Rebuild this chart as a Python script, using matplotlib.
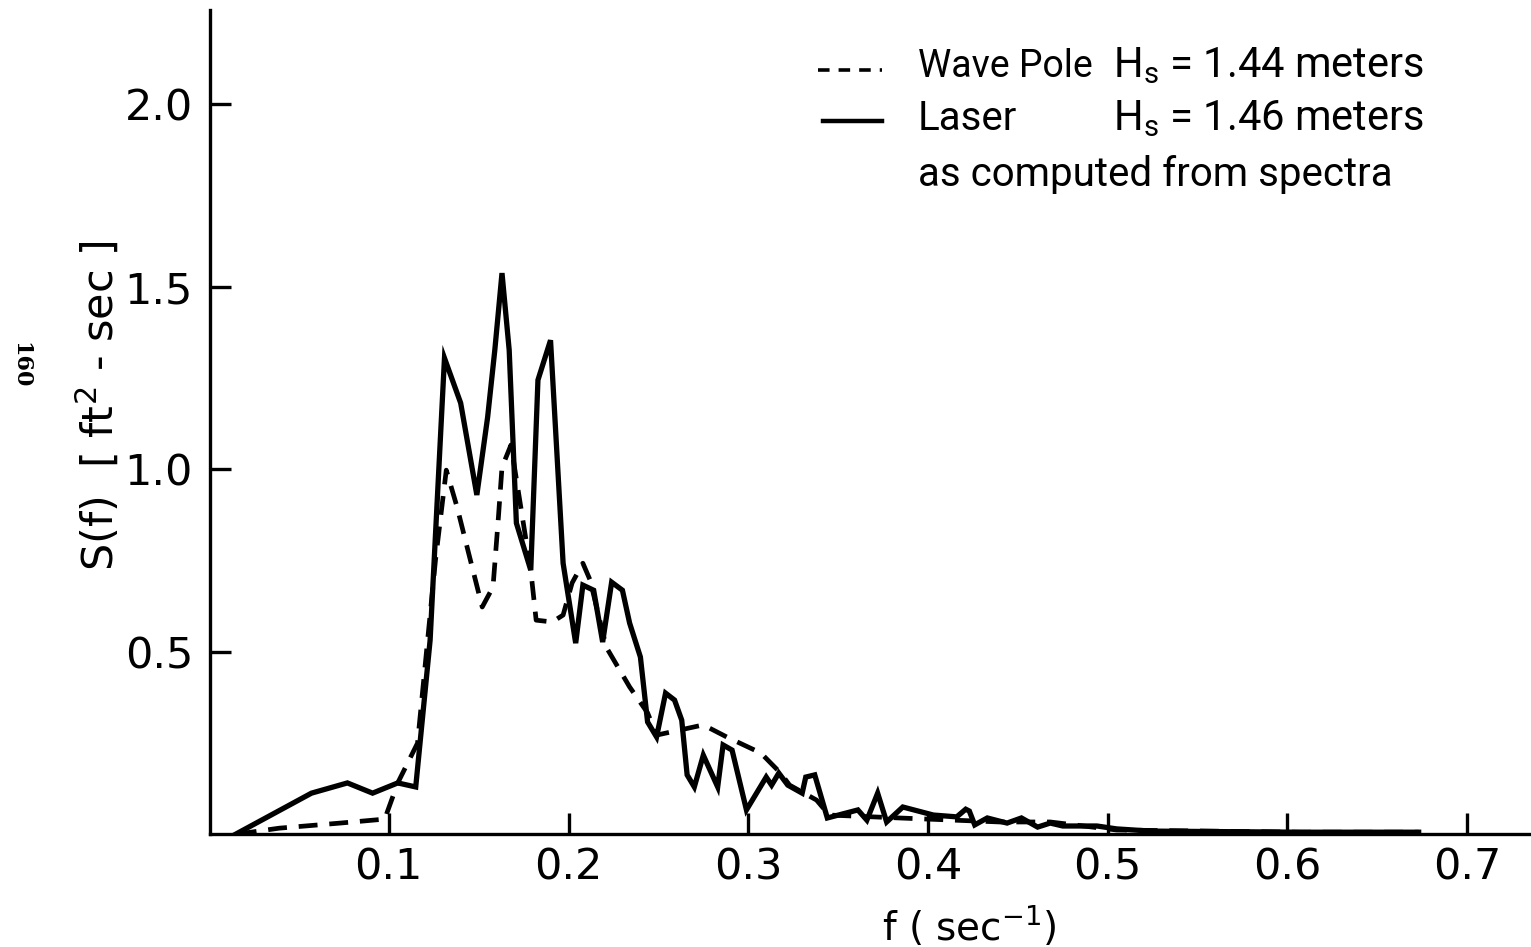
import matplotlib
matplotlib.use('Agg')
import matplotlib.pyplot as plt
from matplotlib.lines import Line2D

# Laser spectrum (solid)
laser_f = [0.015, 0.057, 0.077, 0.091, 0.105, 0.115, 0.123, 0.131, 0.140, 0.149,
           0.155, 0.159, 0.163, 0.167, 0.171, 0.179, 0.183, 0.190, 0.197, 0.204,
           0.208, 0.214, 0.219, 0.224, 0.230, 0.234, 0.240, 0.244, 0.249, 0.254,
           0.259, 0.263, 0.266, 0.270, 0.275, 0.283, 0.286, 0.291, 0.299, 0.310,
           0.313, 0.317, 0.322, 0.330, 0.332, 0.337, 0.344, 0.361, 0.366, 0.372,
           0.377, 0.386, 0.403, 0.416, 0.421, 0.423, 0.426, 0.433, 0.444, 0.452,
           0.461, 0.468, 0.475, 0.494, 0.505, 0.524, 0.607, 0.673]
laser_s = [0.0, 0.112, 0.140, 0.112, 0.140, 0.129, 0.531, 1.304, 1.181, 0.929,
           1.142, 1.326, 1.537, 1.326, 0.852, 0.723, 1.244, 1.353, 0.742, 0.523,
           0.682, 0.668, 0.526, 0.690, 0.668, 0.578, 0.485, 0.307, 0.266, 0.386,
           0.367, 0.312, 0.162, 0.129, 0.216, 0.129, 0.244, 0.230, 0.066, 0.156,
           0.134, 0.167, 0.134, 0.112, 0.156, 0.162, 0.044, 0.066, 0.038, 0.112,
           0.033, 0.074, 0.052, 0.047, 0.068, 0.063, 0.025, 0.044, 0.030, 0.044,
           0.019, 0.030, 0.022, 0.022, 0.014, 0.008, 0.005, 0.005]

# Wave pole spectrum (dashed)
pole_f = [0.016, 0.039, 0.073, 0.098, 0.099, 0.105, 0.116, 0.126, 0.132, 0.138,
          0.144, 0.152, 0.158, 0.161, 0.163, 0.168, 0.179, 0.182, 0.191, 0.197,
          0.202, 0.208, 0.212, 0.221, 0.234, 0.244, 0.249, 0.275, 0.288, 0.307,
          0.318, 0.323, 0.338, 0.345, 0.384, 0.440, 0.468, 0.505, 0.607, 0.673]
pole_s = [0.0, 0.016, 0.030, 0.041, 0.058, 0.140, 0.249, 0.751, 0.997, 0.896,
          0.778, 0.622, 0.677, 0.868, 1.005, 1.066, 0.723, 0.586, 0.581, 0.600,
          0.688, 0.742, 0.696, 0.512, 0.403, 0.332, 0.271, 0.299, 0.266, 0.222,
          0.167, 0.134, 0.093, 0.052, 0.044, 0.033, 0.033, 0.011, 0.005, 0.005]

x_ticks = [0.1, 0.2, 0.3, 0.4, 0.5, 0.6, 0.7]
y_ticks = [0.5, 1.0, 1.5, 2.0]

plt.rcParams['font.family'] = 'DejaVu Sans'

fig = plt.figure(figsize=(15.31, 9.47), dpi=100)
ax = fig.add_axes([0.137, 0.1193, 0.863, 0.870])

ax.plot(pole_f, pole_s, color='black', lw=3.4, ls=(0, (4, 2.5)))
ax.plot(laser_f, laser_s, color='black', lw=3.8, solid_joinstyle='miter')

ax.set_xlim(0.0004, 0.7355)
ax.set_ylim(0, 2.2575)
ax.set_xticks(x_ticks)
ax.set_xticklabels([f'{v:.1f}' for v in x_ticks])
ax.set_yticks(y_ticks)
ax.set_yticklabels([f'{v:.1f}' for v in y_ticks])

for side in ('top', 'right'):
    ax.spines[side].set_visible(False)
for side in ('left', 'bottom'):
    ax.spines[side].set_linewidth(2.4)
ax.tick_params(direction='in', length=15, width=2.4, labelsize=31, pad=9)
ax.tick_params(axis='y', pad=12)

ax.set_xlabel('f ( sec$^{-1}$)', fontsize=28)
ax.xaxis.set_label_coords(0.575, -0.085)
ax.set_ylabel('S(f)  [ ft$^2$ - sec ]', fontsize=31)
ax.yaxis.set_label_coords(-0.066, 0.52)

# page number in the margin
fig.text(20 / 1531, 1 - 365 / 947, '160', rotation=-90, fontsize=16,
         ha='center', va='center', family='DejaVu Serif', weight='bold')

# legend block, placed in figure pixel terms
def fx(px):
    return px / 1531

def fy(py):
    return 1 - py / 947

fig.add_artist(Line2D([fx(818), fx(882)], [fy(70), fy(70)], color='black',
                      lw=2.6, ls=(0, (3.2, 2.5))))
fig.add_artist(Line2D([fx(823), fx(882)], [fy(121), fy(121)], color='black', lw=3.2))
tkw = dict(va='center', ha='left', family='Roboto')
fig.text(fx(918), fy(66), 'Wave Pole', fontsize=27, **tkw)
fig.text(fx(1113), fy(66), 'H$_\\mathregular{s}$ = 1.44 meters', fontsize=30, **tkw)
fig.text(fx(918), fy(119), 'Laser', fontsize=29, **tkw)
fig.text(fx(1113), fy(119), 'H$_\\mathregular{s}$ = 1.46 meters', fontsize=30, **tkw)
fig.text(fx(918), fy(175), 'as computed from spectra', fontsize=29, **tkw)

fig.savefig('out.png', dpi=100)
